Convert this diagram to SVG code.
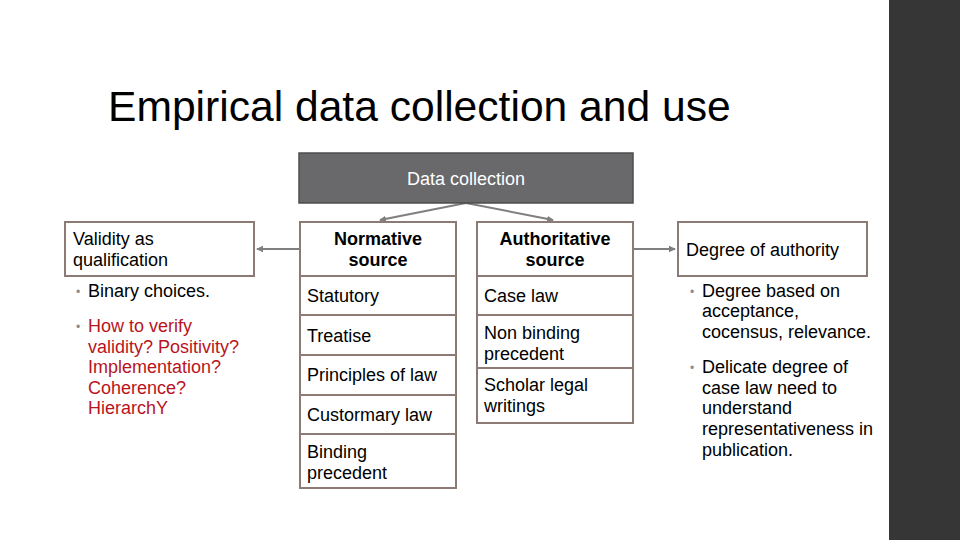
<svg xmlns="http://www.w3.org/2000/svg" width="960" height="540" viewBox="0 0 960 540">
<defs>
<style>
text{font-family:"Liberation Sans",Arial,sans-serif;font-size:18px;fill:#000}
.title{font-size:42.6px}
.box{fill:#fff;stroke:#8c7a75;stroke-width:2}
.b{font-weight:bold}
.red{fill:#b8141c}
.dot{fill:#8c8c8c;font-size:12px}
.conn{stroke:#7f7f7f;stroke-width:2;fill:none;marker-end:url(#ah)}
</style>
<marker id="ah" markerWidth="8" markerHeight="8" refX="6" refY="4" orient="auto" markerUnits="userSpaceOnUse">
<path d="M0,0.8 L7,4 L0,7.2 Z" fill="#7f7f7f"/>
</marker>
</defs>
<rect width="960" height="540" fill="#fff"/>
<rect x="889" y="0" width="71" height="540" fill="#363636"/>
<text class="title" x="108" y="121">Empirical data collection and use</text>

<g id="connectors">
<line class="conn" x1="466" y1="203" x2="380" y2="220"/>
<line class="conn" x1="466" y1="203" x2="553" y2="220"/>
<line class="conn" x1="300" y1="249" x2="257" y2="249"/>
<line class="conn" x1="633" y1="249" x2="675" y2="249"/>
</g>

<g id="data-collection">
<rect x="299" y="153" width="334" height="50" fill="#69696c" stroke="#4d4d4d" stroke-width="1.5"/>
<text x="466" y="185" text-anchor="middle" style="fill:#fff">Data collection</text>
</g>

<g id="validity">
<rect class="box" x="65" y="222" width="189" height="54"/>
<text x="73" y="245">Validity as</text>
<text x="73" y="266">qualification</text>
</g>

<g id="validity-bullets">
<text class="dot" x="76" y="296">•</text>
<text x="88" y="297">Binary choices.</text>
<text class="dot" x="76" y="331">•</text>
<text class="red" x="88" y="332">How to verify</text>
<text class="red" x="88" y="353">validity? Positivity?</text>
<text class="red" x="88" y="373">Implementation?</text>
<text class="red" x="88" y="394">Coherence?</text>
<text class="red" x="88" y="414">HierarchY</text>
</g>

<g id="normative">
<rect class="box" x="300" y="222" width="156" height="54"/>
<text class="b" x="378" y="245" text-anchor="middle">Normative</text>
<text class="b" x="378" y="266" text-anchor="middle">source</text>
</g>
<g id="statutory">
<rect class="box" x="300" y="276" width="156" height="39"/>
<text x="307" y="302">Statutory</text>
</g>
<g id="treatise">
<rect class="box" x="300" y="315" width="156" height="40"/>
<text x="307" y="342">Treatise</text>
</g>
<g id="principles">
<rect class="box" x="300" y="355" width="156" height="40"/>
<text x="307" y="381">Principles of law</text>
</g>
<g id="customary">
<rect class="box" x="300" y="395" width="156" height="39"/>
<text x="307" y="421">Custormary law</text>
</g>
<g id="binding">
<rect class="box" x="300" y="434" width="156" height="54"/>
<text x="307" y="458">Binding</text>
<text x="307" y="479">precedent</text>
</g>

<g id="authoritative">
<rect class="box" x="477" y="222" width="156" height="54"/>
<text class="b" x="555" y="245" text-anchor="middle">Authoritative</text>
<text class="b" x="555" y="266" text-anchor="middle">source</text>
</g>
<g id="case-law">
<rect class="box" x="477" y="276" width="156" height="39"/>
<text x="484" y="302">Case law</text>
</g>
<g id="non-binding">
<rect class="box" x="477" y="315" width="156" height="53"/>
<text x="484" y="339">Non binding</text>
<text x="484" y="360">precedent</text>
</g>
<g id="scholar">
<rect class="box" x="477" y="368" width="156" height="55"/>
<text x="484" y="391">Scholar legal</text>
<text x="484" y="412">writings</text>
</g>

<g id="degree">
<rect class="box" x="678" y="222" width="189" height="54"/>
<text x="686" y="256">Degree of authority</text>
</g>

<g id="degree-bullets">
<text class="dot" x="690" y="296">•</text>
<text x="702" y="297">Degree based on</text>
<text x="702" y="317">acceptance,</text>
<text x="702" y="338">cocensus, relevance.</text>
<text class="dot" x="690" y="372">•</text>
<text x="702" y="373">Delicate degree of</text>
<text x="702" y="394">case law need to</text>
<text x="702" y="414">understand</text>
<text x="702" y="435">representativeness in</text>
<text x="702" y="456">publication.</text>
</g>
</svg>
